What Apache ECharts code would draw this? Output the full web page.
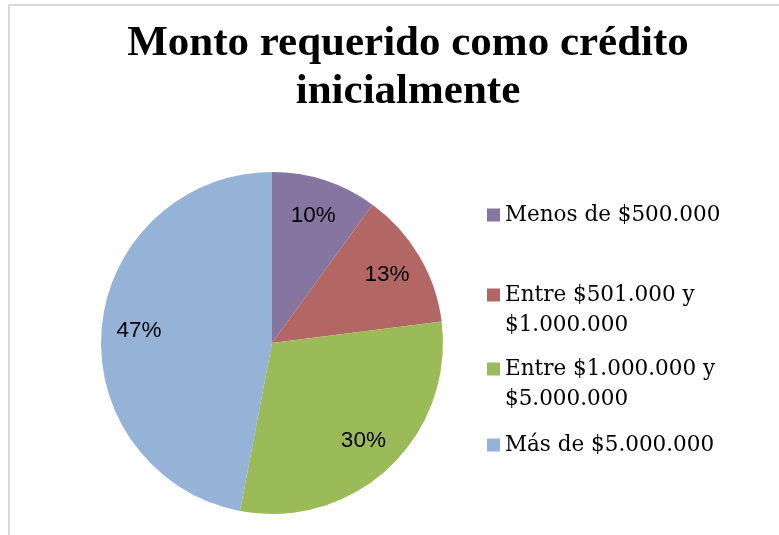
<!DOCTYPE html>
<html>
<head>
<meta charset="utf-8">
<script src="https://cdn.jsdelivr.net/npm/echarts@6/dist/echarts.min.js"></script>
<style>
  html, body { margin: 0; padding: 0; background: #fff; }
  #chart { width: 779px; height: 535px; }
</style>
</head>
<body>
<div id="chart"></div>
<script>
var categories = ['Menos de $500.000', 'Entre $501.000 y $1.000.000', 'Entre $1.000.000 y $5.000.000', 'Más de $5.000.000'];
var values = [10, 13, 30, 47];
var colors = ['#8575A0', '#B26765', '#9BBB59', '#95B3D7'];
// top of each legend box
var legendTops = [200, 250, 324, 430];

var pieData = categories.map(function (name, i) {
    return { name: name, value: values[i], itemStyle: { color: colors[i] } };
});

// legend text is centred on the marker, so two-line entries get an empty
// first line to keep the marker next to the first real line
var legends = categories.map(function (name, i) {
    return {
        orient: 'vertical',
        left: 487,
        top: legendTops[i],
        padding: 0,
        itemWidth: 13,
        itemHeight: 13,
        itemGap: 0,
        icon: 'rect',
        selectedMode: false,
        data: [name],
        formatter: function (n) {
            return n.indexOf(' y ') >= 0 ? '\n' + n.replace(' y ', ' y\n') : n;
        },
        textStyle: {
            fontFamily: 'DejaVu Serif',
            fontSize: 21.5,
            color: '#000',
            lineHeight: 30
        }
    };
});

var chart = echarts.init(document.getElementById('chart'));
chart.setOption({
    animation: false,
    title: {
        text: 'Monto requerido como crédito\ninicialmente',
        left: 408,
        top: 20,
        padding: 0,
        textAlign: 'center',
        textStyle: {
            fontFamily: 'Liberation Serif',
            fontWeight: 'bold',
            fontSize: 43,
            lineHeight: 48,
            color: '#000'
        }
    },
    legend: legends,
    graphic: [{
        type: 'rect',
        shape: { x: 9, y: 5, width: 900, height: 700 },
        style: { fill: 'none', stroke: '#d9d9d9', lineWidth: 2 },
        silent: true
    }],
    series: [
        {
            type: 'pie',
            center: [272, 343],
            radius: [0, 171],
            startAngle: 90,
            clockwise: true,
            label: { show: false },
            labelLine: { show: false },
            emphasis: { disabled: true },
            data: pieData
        },
        {
            // ring only used to place the percentage labels further out
            type: 'pie',
            center: [272, 343],
            radius: [90, 171],
            startAngle: 90,
            silent: true,
            itemStyle: { color: 'transparent' },
            emphasis: { disabled: true },
            label: {
                show: true,
                position: 'inside',
                formatter: '{c}%',
                fontFamily: 'Liberation Sans',
                fontSize: 22.5,
                color: '#000'
            },
            labelLine: { show: false },
            data: categories.map(function (name, i) { return { name: name, value: values[i] }; })
        }
    ]
});
</script>
</body>
</html>
